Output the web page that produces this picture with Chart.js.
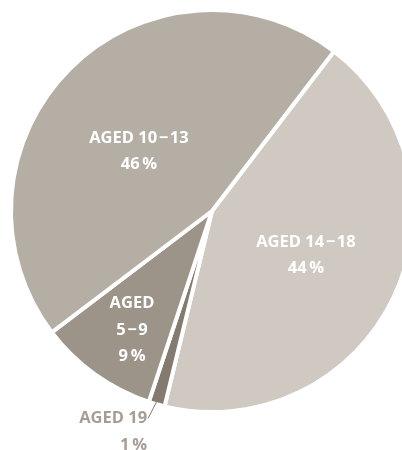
<!DOCTYPE html>
<html>
<head>
<meta charset="utf-8">
<script src="https://cdn.jsdelivr.net/npm/chart.js@4/dist/chart.umd.min.js"></script>
<style>
  html, body { margin: 0; padding: 0; background: #fff; width: 402px; height: 450px; overflow: hidden; }
  #wrap { position: relative; width: 424px; height: 450px; }
</style>
</head>
<body>
<div id="wrap"><canvas id="c" width="424" height="450"></canvas></div>
<script>
// Data (clockwise from the top-right boundary)
const categories = ["AGED 14\u200A−\u200A18", "AGED 19", "AGED 5\u200A−\u200A9", "AGED 10\u200A−\u200A13"];
const shares = [43.4, 1.3, 9.6, 45.7];          // slice sizes
const shareLabels = ["44\u2009%", "1\u2009%", "9\u2009%", "46\u2009%"]; // printed labels
const colors = ["#cfc9c2", "#857a6f", "#9c9389", "#b4aea4"];

// label lines per slice
const labelLines = [
  [categories[0], shareLabels[0]],
  [categories[1], shareLabels[1]],
  ["AGED", "5\u200A−\u200A9", shareLabels[2]],
  [categories[3], shareLabels[3]]
];

const labelPlugin = {
  id: 'labels',
  afterDatasetsDraw(chart) {
    const ctx = chart.ctx;
    const meta = chart.getDatasetMeta(0);
    const a0 = meta.data[0];
    const cx = a0.x, cy = a0.y, R = a0.outerRadius - 2;
    const pos = [
      { fx: 0.472, fy: 0.222, align: 'center', color: '#ffffff' },
      null,
      { fx: -0.402, fy: 0.597, align: 'center', color: '#ffffff' },
      { fx: -0.367, fy: -0.300, align: 'center', color: '#ffffff' }
    ];
    ctx.save();
    ctx.font = 'bold 16.5px "Open Sans"';
    ctx.textBaseline = 'middle';
    const lh = 26.5;
    labelLines.forEach((lines, i) => {
      const p = pos[i];
      if (!p) return;
      ctx.fillStyle = p.color;
      ctx.textAlign = p.align;
      const x = cx + p.fx * R;
      const y0 = cy + p.fy * R - (lines.length - 1) * lh / 2;
      lines.forEach((t, k) => ctx.fillText(t, x, y0 + k * lh));
    });
    // outside label for the thin slice with leader line
    const arc = meta.data[1];
    const mid = (arc.startAngle + arc.endAngle) / 2;
    const r1 = arc.outerRadius - 6, r2 = arc.outerRadius + 16;
    const sx = cx + Math.cos(mid) * r1, sy = cy + Math.sin(mid) * r1;
    const ex = cx + Math.cos(mid + 0.02) * r2, ey = cy + Math.sin(mid + 0.02) * r2;
    ctx.strokeStyle = colors[1];
    ctx.lineWidth = 1;
    ctx.beginPath(); ctx.moveTo(sx, sy); ctx.lineTo(ex, ey); ctx.stroke();
    ctx.fillStyle = '#a69e95';
    ctx.textAlign = 'right';
    const lx = ex - 1;
    ctx.fillText(labelLines[1][0], lx, ey);
    ctx.fillText(labelLines[1][1], lx, ey + lh);
    ctx.restore();
  }
};

new Chart(document.getElementById('c'), {
  type: 'pie',
  data: {
    labels: categories,
    datasets: [{
      data: shares,
      backgroundColor: colors,
      borderColor: '#ffffff',
      borderWidth: 4
    }]
  },
  options: {
    responsive: false,
    animation: false,
    rotation: 37.4,
    layout: { padding: { left: 9, right: 9, top: 8, bottom: 36 } },
    plugins: { legend: { display: false }, tooltip: { enabled: false } }
  },
  plugins: [labelPlugin]
});
</script>
</body>
</html>
